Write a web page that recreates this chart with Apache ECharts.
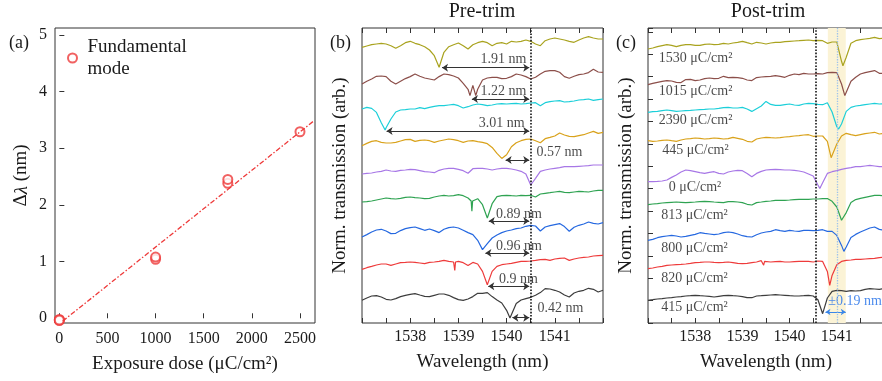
<!DOCTYPE html>
<html>
<head>
<meta charset="utf-8">
<script src="https://cdn.jsdelivr.net/npm/echarts@6/dist/echarts.min.js"></script>
<style>
  html, body { margin: 0; padding: 0; background: #fff; }
  #chart { width: 882px; height: 381px; }
</style>
</head>
<body>
<div id="chart"></div>
<script>
const FONT = 'Liberation Serif';
const INK = '#1a1a1a';

// (a) resonance shift vs exposure dose
const doseX = [0, 0, 0, 1000, 1000, 1750, 1750, 2500];
const shiftY = [-0.02, -0.04, -0.03, 1.04, 1.08, 2.38, 2.45, 3.29];
const fitX = [35, 2650];
const fitY = [-0.05, 3.49];
const doseTicks = [0, 500, 1000, 1500, 2000, 2500];
const shiftTicks = [0, 1, 2, 3, 4, 5];

// spectra sampled every 0.1 nm from 1537 to 1542 nm
const wl = Array.from({ length: 51 }, (_, k) => +(1537 + 0.1 * k).toFixed(1));
const traceColors = ['#a9a31f', '#8c4f4a', '#1ccfd9', '#d9a21b', '#a777e6', '#2fa352', '#2568e0', '#ee3b3b', '#3d3d3d'];

// (b) pre-trim: baseline level of each trace and its deviation (arb.)
const preOffsets = [279, 245.7, 217.3, 182.3, 153, 126, 93.7, 60.3, 27.7];
const preOlive = [-3.3,-2,-0.7,0,0.7,0,-1.7,-4.3,-1.7,1.3, 2.7,0.7,-0.7,-2.7,-6,-11.7,-23.3,-8.3,-2.7,-0.7, 1,-1.7,-5,-0.7,1.3,2.7,1.3,-1.7,0.7,1.3, 0,2.7,2,2.7,4,2.7,0,-1.7,3.3,5, 6,5,4,2.7,1.7,4,6,7.3,6,5,5];
const preBrown = [-6.7,-4,-1.7,1,1.3,0.7,-4,-6.7,-4,-1.3, 0.7,3.3,1,-0.7,-1.7,-2.7,0.7,3.3,2.7,1.3, -0.7,-6,-12,-8,-12,-2.7,-0.7,0,0,-1.3, -1,0.7,3.3,2.3,0.7,-1.7,0,3.3,6,6.7, 6.7,5,0.7,-1,1,2.7,3.3,4.7,8,5.3,5];
const preCyan = [-3.3,-1.7,-2.7,-6.7,-17,-22,-13.3,-6.3,-4.3,-4, -3.3,-3.3,-2,-3,-1.7,-0.7,0,0,0.7,1.3, 0,-2.3,-1,0.7,1.7,1,0,0.7,1.7,2, 1.7,2,2.3,1.7,2,2.7,3,0,3,4, 4.7,5,3.7,4,4.7,5.7,6,6.7,5.3,6,6.7];
const preGold = [-5,-2.7,-0.7,0,-1.7,-2.3,-2.3,-1.7,-0.3,1, 1.3,-0.7,0.3,0.7,0,-1.7,-0.3,0.7,1.7,1, 0,-1.7,-0.3,0,-1,-1.7,-3,-6.7,-12.7,-17.7, -14,-6,-2,0,1.3,1.7,0,-2,2,3.3, 4.7,7.7,5.7,4.3,4,5,6,7.7,9.3,7.3,8.3];
const prePurple = [-4,-3.3,-3,-2,-1.3,0,-1,-1.3,-0.3,0, 0.7,0.3,-0.7,-1.7,-2,-2.7,-0.3,1,1.7,1.7, 0.7,-0.7,-3.3,1.3,1.7,1.7,1,0,1,1.7, 1.7,1,0,-1.3,-4,-15,-8.3,-1.3,0,1, 1.7,2.3,3.3,3.3,3.3,3.7,4,4.3,5,5,5];
const preGreen = [-5,-4.7,-4,-3,-2,-1,-1.7,-2,-1.3,-0.3, 0,-0.7,-1,-1.7,-1.3,0,1,1.7,1,1.3, 2.3,1.3,-1,-3,-1.7,-7.7,-21,-6.7,0.3,1.3, 1.7,1.3,1,1.7,1.3,1.7,0,3,3.7,4.3, 5,5.7,4.7,4.3,5,5.7,5.3,5,6,6.7,6.7];
const preBlue = [-7.7,-5.3,-2.7,-0.7,0,-1.7,-4.3,-4,-1.3,0.7, 1.7,2.3,0.7,-1,0.3,-1.3,-3.3,0,1.7,2.3, 1.3,-1,-3.3,-5.3,-11,-20.3,-14.3,-8.7,-5.7,-3.3, -1.7,-0.7,0.7,1.3,3,4,3.3,-1.7,2.3,3.7, 4.7,5.7,2.7,-2,2,4,5.3,7.3,6,5.3,6.7];
const preRed = [-6.7,-5,-3.7,-2.3,-1.3,-1.3,-2.7,-1.3,0,0.3, 0.7,0.3,-0.3,-1,0.3,0.7,1.3,2.3,1.3,0.7, 1.3,0,-2.7,0.3,-1.3,-8.7,-22,-8.7,-3.7,-2, -1.3,-0.7,0.3,1.3,1.3,1.7,2.3,3,3.3,2.3, 3.7,4.3,4.7,2.3,3.7,4.7,5.3,5.7,6.7,7,7.3];
const preGray = [-5,-2.7,-0.7,-0.3,-1.7,-4,-4.7,-3.3,-1.3,0, 1,1.7,0.3,-1,-1.3,0,1.3,1.3,0,-2.3, -4.3,-5,-3.7,-1.3,2,2,2.7,-1.3,-4.7,-7.7, -15,-20.7,-8.3,-4.7,-3.3,-2,0,2.7,6.7,6.3, 5,3.3,0.3,-1.7,2.3,4,5,7,6,3.3,5];
// narrow features between grid samples: [nm, deviation]
const preDips = [
  [],
  [[1539.24, -18.3], [1539.36, -18.3]],
  [[1537.48, -24.3]],
  [[1539.92, -18.5]],
  [[1540.52, -17]],
  [[1539.265, -4], [1539.28, -14.3], [1539.295, -4]],
  [[1539.51, -21]],
  [[1538.91, 0.7], [1538.925, -7.7], [1538.94, 0.7]],
  [[1540.07, -22.7]]
];

// (c) post-trim
const postOffsets = [279, 245.7, 217.3, 184, 151.3, 121.7, 89.3, 60.3, 27];
const postOlive = [-5,-4,-2.7,-1.7,-0.7,-1.3,-2.7,-1.3,-0.7,-0.7, -1.3,-1.3,-0.3,0,-0.7,-0.3,0.7,0,1,1.7, 2.7,1.3,0,1.7,1,0,1,1.7,1.7,2.3, 2.7,3,3.3,3.7,4,3.3,3.7,3.3,0.7,2, 2,-17.3,-13.3,0.7,3.3,4.3,5,5.7,6.7,5.3,6];
const postBrown = [-7.3,-6,-5,-4,-3.3,-3.7,-5,-5.3,-2.3,-2, -3.3,-2.7,-1.3,-0.7,-1.3,-1,1,-0.3,0,-0.3, -1,-2.7,-3.3,-0.3,0.3,0.7,1,1.7,1,0, 2,3.3,2.7,4,3.3,3.3,3.7,3.3,4.7,5, 4.7,-6.7,-15,-4,0,3.3,4.7,5.7,6.7,4,4];
const postCyan = [-6.7,-6,-5.7,-5,-4.3,-5,-5.7,-5.3,-5,-4.7, -4.3,-4,-3.7,-3.3,-3.3,-2.7,-2,-1.7,-2.3,-2.3, -1.7,-3.3,-5.7,-3,-0.3,4.3,1.3,0.3,0.3,1, 1.7,0.7,0.3,1.7,2.3,2,1.3,1,3,-6.3, -21,-18.3,-5.7,-1.7,-0.3,0.3,1,1.7,2.3,1.7,2];
const postGold = [-1.7,-2.3,-2,-1.3,-1,-1.7,-2.3,-1,0,0.3, 1,0.7,0,0.3,1,0.7,0,0.3,1.7,0.7, -0.3,-2.3,-3,0,1,1.7,1.3,1,1.3,2, 2.3,3,3.3,4,4.3,2.7,3,3,-2.3,-17.7, -5,3,5.7,4.3,3.3,4.3,5.3,6,6.7,5,5.7];
const postPurple = [-10,-10,-9.7,-9.3,-8.3,-5.7,-3.3,-0.3,1.7,1, 0,-1,-1.7,-0.7,0,-1.7,-2.3,-0.3,0.7,1.3, 1,-1.7,-5,-1.7,0.3,1.7,2,2.3,2,1.7, 1.7,1.3,0.7,-0.3,-2.3,-4.3,-13.3,-11,-1.7,0, 1,2.3,3.3,4,5,5,5.7,6.3,5.7,5,5];
const postGreen = [-3.3,-2.7,-2.3,-1.7,-1.3,-1,-0.7,-1,-1.3,-1, -0.7,-0.3,0,-0.3,-0.7,-1,-1.3,-0.3,-0.3,-0.7, -1.3,-3,-3.7,-1.3,-0.7,0,0.3,1,1,1, 1.3,1.7,2,2,2,2.3,2.3,2.7,2.7,0, -5.7,-19,-11.3,-1.3,1.7,3,4,5,6,6,5.3];
const postBlue = [-6.7,-5.7,-4,-3,-2.3,-1.7,-2.3,-3.3,-2.7,-1.7, -0.7,1,0.3,-0.3,-1,-0.3,1,1.7,1,-0.3, -2,-3,-3.3,-1,0.7,1.7,2.3,4,3,2.3, 3.3,2.7,2.3,3.3,3.3,3,3.3,4,2.3,2.3, -1.7,-11.7,-13.3,-3.7,-0.7,1.7,3.7,5.7,6.7,4.3,3.3];
const postRed = [-6,-5.3,-4.3,-3.7,-2.7,-2.3,-2,-1.7,-1.3,-0.7, 0,0.3,0.7,0.7,0.3,0,0.3,0.7,0,-0.7, -1,-0.7,0,0.7,2,1.3,0.7,1,1.3,0.7, 0.7,1,1.3,1.3,1.3,0.7,1.7,1.3,-8.7,-12.7, -2,1.3,2.3,2.7,3.3,3.3,3.7,4,4.3,5,5.7];
const postGray = [-4.3,-3.7,-3,-2.7,-2,-1.7,-1,-0.7,0,0.3, 0.7,0.3,0,-0.3,-1,-0.3,0.3,0.7,0.3,0, -0.7,-1.7,-1.7,0,0.3,0.7,1,1.3,1,0.7, 0.3,0,0,0.3,0.7,0,-3.7,-17.7,-2,4.7, 5.7,5.3,4.7,5.3,5,5.3,6.7,7.3,7,6.7,7.3];
const postDips = [
  [[1541.13, -21.7]],
  [[1541.17, -18.3]],
  [[1541.04, -23.3]],
  [[1540.88, -18.7]],
  [[1540.64, -16.7]],
  [[1541.11, -20]],
  [[1541.15, -17.7]],
  [[1539.43, 1.7], [1539.45, -2.5], [1539.47, 1.3], [1540.85, -22.7]],
  []
];
const doseLabels = ['1530 μC/cm²', '1015 μC/cm²', '2390 μC/cm²', '445 μC/cm²', '0 μC/cm²', '813 μC/cm²', '800 μC/cm²', '820 μC/cm²', '415 μC/cm²'];
const doseLabelX = [1537.23, 1537.23, 1537.23, 1537.30, 1537.44, 1537.28, 1537.28, 1537.28, 1537.28];
const doseLabelY = [265, 231.3, 202.3, 172.3, 136, 107.7, 74.3, 44.3, 16];

// (b) shift annotations: dip position -> reference line
const refLine = 1540.5;
const shiftText = ['1.91 nm', '1.22 nm', '3.01 nm', '0.57 nm', '0.89 nm', '0.96 nm', '0.9 nm', '0.42 nm'];
const shiftFrom = [1538.66, 1539.28, 1537.51, 1539.98, 1539.63, 1539.56, 1539.62, 1540.12];
const shiftArrowY = [255.3, 224, 192, 163, 102, 70, 36.7, 5.3];
const shiftTextX = [1539.46, 1539.46, 1539.42, 1540.62, 1539.78, 1539.78, 1539.84, 1540.64];
const shiftTextY = [264, 231.3, 199.7, 170.7, 108.7, 77, 43.7, 15];

// (c) tolerance band
const postRef = 1540.55;
const bandCenter = 1541.0;
const bandHalf = 0.19;

function buildTrace(dev, off, dips) {
  const pts = wl.map((x, k) => [x, off + dev[k]]);
  dips.forEach(d => pts.push([d[0], off + d[1]]));
  pts.sort((a, b) => a[0] - b[0]);
  return pts;
}

const preTraces = [preOlive, preBrown, preCyan, preGold, prePurple, preGreen, preBlue, preRed, preGray];
const postTraces = [postOlive, postBrown, postCyan, postGold, postPurple, postGreen, postBlue, postRed, postGray];

const txt = (size, extra) => Object.assign({ fontFamily: FONT, fontSize: size, color: INK }, extra || {});

const chart = echarts.init(document.getElementById('chart'), null, { renderer: 'canvas' });

const wlAxis = (grid, pos, withLabels) => ({
  type: 'value', gridIndex: grid, position: pos, min: 1537, max: 1542, interval: 0.5,
  axisLine: { show: false }, splitLine: { show: false },
  axisTick: { show: true, inside: true, length: 5, lineStyle: { color: '#333' } },
  axisLabel: {
    show: withLabels, interval: 0, margin: 6, ...txt(16),
    formatter: v => (Math.abs(v - Math.round(v)) < 1e-6 && v > 1537.5 && v < 1541.5) ? String(Math.round(v)) : ''
  },
  name: withLabels ? 'Wavelength (nm)' : '', nameLocation: 'middle', nameGap: 30,
  nameTextStyle: txt(19)
});

const series = [];

// (a)
series.push({
  type: 'line', xAxisIndex: 0, yAxisIndex: 0, symbol: 'none', silent: true,
  lineStyle: { color: '#ee3a3a', width: 1.3, type: [5, 2, 1.5, 2] },
  data: fitX.map((x, i) => [x, fitY[i]])
});
series.push({
  name: 'Fundamental mode', type: 'scatter', xAxisIndex: 0, yAxisIndex: 0,
  symbol: 'emptyCircle', symbolSize: 9,
  itemStyle: { color: '#ee3a3a', borderColor: '#ee3a3a', borderWidth: 1.3 },
  data: doseX.map((x, i) => [x, shiftY[i]])
});

// (b)
preTraces.forEach((dev, i) => {
  const s = {
    type: 'line', xAxisIndex: 1, yAxisIndex: 1, symbol: 'none', silent: true,
    lineStyle: { color: traceColors[i], width: 1.2 },
    data: buildTrace(dev, preOffsets[i], preDips[i])
  };
  if (i === 0) {
    s.markLine = {
      silent: true, symbol: 'none', label: { show: false },
      lineStyle: { color: '#111', type: 'dotted', width: 1.6 },
      data: [{ xAxis: refLine }]
    };
  }
  series.push(s);
});
series.push({
  type: 'lines', coordinateSystem: 'cartesian2d', xAxisIndex: 1, yAxisIndex: 1, silent: true,
  symbol: ['arrow', 'arrow'], symbolSize: 6,
  lineStyle: { color: '#333', width: 1, opacity: 1 },
  data: shiftFrom.map((x, i) => ({ coords: [[x, shiftArrowY[i]], [refLine - 0.03, shiftArrowY[i]]] }))
});
series.push({
  type: 'scatter', xAxisIndex: 1, yAxisIndex: 1, symbolSize: 0, silent: true,
  label: { show: true, position: 'right', distance: 0, formatter: '{b}', ...txt(14) },
  data: shiftText.map((t, i) => ({ name: t, value: [shiftTextX[i], shiftTextY[i]] }))
});

// (c)
series.push({
  type: 'line', xAxisIndex: 3, yAxisIndex: 2, symbol: 'none', silent: true, data: [],
  markArea: {
    silent: true, itemStyle: { color: '#fbf3d6' },
    data: [[{ xAxis: bandCenter - bandHalf }, { xAxis: bandCenter + bandHalf }]]
  },
  markLine: {
    silent: true, symbol: 'none', label: { show: false },
    data: [
      { xAxis: postRef, lineStyle: { color: '#111', type: 'dotted', width: 1.6 } },
      { xAxis: bandCenter, lineStyle: { color: '#9cc2ec', type: 'dotted', width: 1.3 } }
    ]
  }
});
postTraces.forEach((dev, i) => {
  series.push({
    type: 'line', xAxisIndex: 3, yAxisIndex: 2, symbol: 'none', silent: true,
    lineStyle: { color: traceColors[i], width: 1.2 },
    data: buildTrace(dev, postOffsets[i], postDips[i])
  });
});
series.push({
  type: 'scatter', xAxisIndex: 3, yAxisIndex: 2, symbolSize: 0, silent: true,
  label: { show: true, position: 'right', distance: 0, formatter: '{b}', ...txt(14) },
  data: doseLabels.map((t, i) => ({ name: t, value: [doseLabelX[i], doseLabelY[i]] }))
});
series.push({
  type: 'lines', coordinateSystem: 'cartesian2d', xAxisIndex: 3, yAxisIndex: 2, silent: true,
  symbol: ['arrow', 'arrow'], symbolSize: 5,
  lineStyle: { color: '#3a86e8', width: 1, opacity: 1 },
  data: [{ coords: [[bandCenter - bandHalf - 0.05, 11], [bandCenter + bandHalf, 11]] }]
});
series.push({
  type: 'scatter', xAxisIndex: 3, yAxisIndex: 2, symbolSize: 0, silent: true,
  label: { show: true, position: 'right', distance: 0, formatter: '{b}', ...txt(14, { color: '#1f6ee8' }) },
  data: [{ name: '±0.19 nm', value: [bandCenter - bandHalf + 0.01, 21.3] }]
});

const frame = { show: true, borderColor: '#333', borderWidth: 1, backgroundColor: 'transparent', outerBoundsMode: 'none' };

chart.setOption({
  animation: false,
  backgroundColor: '#fff',
  textStyle: { fontFamily: FONT },
  title: [
    { text: 'Pre-trim', left: 482, top: 2, textAlign: 'center', padding: 0, textStyle: txt(20, { fontWeight: 'normal' }) },
    { text: 'Post-trim', left: 768, top: 2, textAlign: 'center', padding: 0, textStyle: txt(20, { fontWeight: 'normal' }) },
    { text: '(a)', left: 9, top: 34, padding: 0, textStyle: txt(18, { fontWeight: 'normal' }) },
    { text: '(b)', left: 330, top: 34, padding: 0, textStyle: txt(18, { fontWeight: 'normal' }) },
    { text: '(c)', left: 616, top: 34, padding: 0, textStyle: txt(18, { fontWeight: 'normal' }) }
  ],
  legend: {
    left: 62, top: 20, orient: 'vertical',
    itemWidth: 20, itemHeight: 9, itemGap: 5,
    data: [{ name: 'Fundamental mode', icon: 'emptyCircle' }],
    formatter: () => 'Fundamental\nmode',
    textStyle: txt(19, { lineHeight: 22, padding: [22, 0, 0, 0] })
  },
  grid: [
    Object.assign({ left: 55, top: 28, width: 260, height: 295 }, frame),
    Object.assign({ left: 362, top: 28, width: 241, height: 295 }, frame),
    Object.assign({ left: 648, top: 28, width: 236, height: 295 }, frame)
  ],
  xAxis: [
    {
      type: 'value', gridIndex: 0, min: -45, max: 2656,
      axisLine: { show: false }, splitLine: { show: false },
      axisTick: { show: true, inside: true, length: 5, customValues: doseTicks, lineStyle: { color: '#333' } },
      axisLabel: { customValues: doseTicks, margin: 8, formatter: v => String(v), ...txt(16) },
      name: 'Exposure dose (μC/cm²)', nameLocation: 'middle', nameGap: 32, nameTextStyle: txt(19)
    },
    wlAxis(1, 'bottom', true),
    wlAxis(1, 'top', false),
    wlAxis(2, 'bottom', true),
    wlAxis(2, 'top', false)
  ],
  yAxis: [
    {
      type: 'value', gridIndex: 0, min: -0.083, max: 5.12,
      axisLine: { show: false }, splitLine: { show: false },
      axisTick: { show: true, inside: true, length: 5, customValues: shiftTicks, lineStyle: { color: '#333' } },
      axisLabel: { customValues: shiftTicks, margin: 8, ...txt(16) },
      name: 'Δ{i|λ} (nm)', nameLocation: 'middle', nameGap: 24,
      nameTextStyle: txt(19, { rich: { i: txt(19, { fontStyle: 'italic' }) } })
    },
    {
      type: 'value', gridIndex: 1, min: 0, max: 295,
      axisLine: { show: false }, splitLine: { show: false }, axisTick: { show: false }, axisLabel: { show: false },
      name: 'Norm. transmission (arb.)', nameLocation: 'middle', nameGap: 12, nameTextStyle: txt(19)
    },
    {
      type: 'value', gridIndex: 2, min: 0, max: 295, interval: 22.4,
      axisLine: { show: false }, splitLine: { show: false },
      axisTick: { show: true, inside: true, length: 5, lineStyle: { color: '#333' } },
      axisLabel: { show: false },
      name: 'Norm. transmission (arb.)', nameLocation: 'middle', nameGap: 12, nameTextStyle: txt(19)
    }
  ],
  series
});
</script>
</body>
</html>
